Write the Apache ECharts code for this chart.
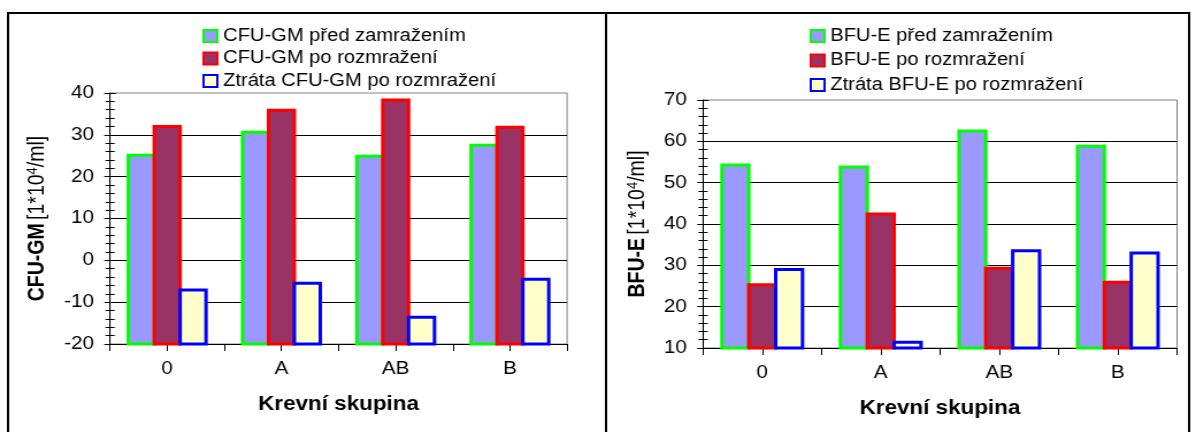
<!DOCTYPE html>
<html>
<head>
<meta charset="utf-8">
<script src="https://cdn.jsdelivr.net/npm/echarts@6/dist/echarts.min.js"></script>
<style>
  html, body { margin: 0; padding: 0; background: #fff; overflow: hidden; }
  /* the drawing is laid out on a narrower canvas and widened to the window */
  #chart { width: 1040px; height: 432px; transform: scaleX(1.15); transform-origin: 0 0; }
</style>
</head>
<body>
<div id="chart"></div>
<script>
// Blood groups on the category axis
const categories = ['0', 'A', 'AB', 'B'];

// CFU-GM counts [1*10^4/ml]
const cfuNames = ['CFU-GM před zamražením', 'CFU-GM po rozmražení', 'Ztráta CFU-GM po rozmražení'];
const cfuBefore = [25.1, 30.6, 24.9, 27.5];
const cfuAfter = [32.0, 35.9, 38.3, 31.8];
const cfuLoss = [-7.1, -5.5, -13.6, -4.5];
const cfuAxis = { min: -20, max: 40, interval: 10 };

// BFU-E counts [1*10^4/ml]
const bfuNames = ['BFU-E před zamražením', 'BFU-E po rozmražení', 'Ztráta BFU-E po rozmražení'];
const bfuBefore = [54.3, 53.8, 62.5, 58.8];
const bfuAfter = [25.3, 42.4, 29.3, 25.9];
const bfuLoss = [29.0, 11.4, 33.5, 33.0];
const bfuAxis = { min: 10, max: 70, interval: 10 };

const xTitle = 'Krevní skupina';

const FONT = '"Liberation Sans", Arial, sans-serif';
const GROUP_SHARE = 0.68;
const styles = [
  { fill: '#9999FF', stroke: '#00FF00' },
  { fill: '#993366', stroke: '#FF0000' },
  { fill: '#FFFFCC', stroke: '#0000FF' }
];

// Bars start at the bottom of the value axis, three side by side per category
function barRenderer(slot, baseValue) {
  const st = styles[slot];
  return function (params, api) {
    const cat = api.value(0);
    const top = api.coord([cat, api.value(1)]);
    const base = api.coord([cat, baseValue]);
    const band = api.size([1, 0])[0];
    const w = band * GROUP_SHARE / 3;
    const x = top[0] - band * GROUP_SHARE / 2 + slot * w;
    return {
      type: 'rect',
      shape: { x: x, y: top[1], width: w, height: base[1] - top[1] },
      style: { fill: st.fill, stroke: st.stroke, lineWidth: 3 }
    };
  };
}

function makeSeries(names, lists, axisIdx, baseValue) {
  return lists.map(function (vals, k) {
    return {
      type: 'custom',
      name: names[k],
      xAxisIndex: axisIdx,
      yAxisIndex: axisIdx,
      encode: { x: 0, y: 1 },
      itemStyle: { color: styles[k].fill, borderColor: styles[k].stroke, borderWidth: 2 },
      data: vals.map(function (v, i) { return [i, v]; }),
      renderItem: barRenderer(k, baseValue)
    };
  });
}

function legendFor(names, left, gap) {
  return {
    orient: 'vertical', left: left, top: 22, itemGap: gap,
    itemWidth: 12, itemHeight: 12, icon: 'rect',
    textStyle: { fontFamily: FONT, fontSize: 17.5, color: '#000' },
    data: names.map(function (n, k) {
      return { name: n, itemStyle: { color: styles[k].fill, borderColor: styles[k].stroke, borderWidth: 2 } };
    })
  };
}

function mainX(grid) {
  return {
    type: 'category', gridIndex: grid, data: categories, boundaryGap: true,
    axisLine: { onZero: false, lineStyle: { color: '#000', width: 1 } },
    axisTick: { show: false },
    axisLabel: { fontFamily: FONT, fontSize: 18, color: '#000', margin: 16 },
    splitLine: { show: false },
    name: xTitle, nameLocation: 'middle', nameGap: 51,
    nameTextStyle: { fontFamily: FONT, fontSize: 19.5, fontWeight: 'bold', color: '#000' }
  };
}

// Tick marks at category edges and centres
function tickX(grid) {
  return {
    type: 'category', gridIndex: grid, data: ['', '', '', '', '', '', '', ''], boundaryGap: true,
    position: 'bottom',
    axisLine: { show: false, onZero: false },
    axisTick: { show: true, length: 7, lineStyle: { color: '#000' } },
    axisLabel: { show: false },
    splitLine: { show: false }
  };
}

function mainY(grid, ax, label, gap) {
  return {
    type: 'value', gridIndex: grid, min: ax.min, max: ax.max, interval: ax.interval,
    axisLine: { show: true, onZero: false, lineStyle: { color: '#000', width: 1 } },
    axisTick: { show: true, inside: false, length: 5, lineStyle: { color: '#000' } },
    minorTick: { show: true, splitNumber: 5, length: 4, lineStyle: { color: '#000' } },
    splitLine: { show: true, showMaxLine: false, lineStyle: { color: '#000', width: 1 } },
    axisLabel: { fontFamily: FONT, fontSize: 18, color: '#000', margin: 14 },
    name: '{b|' + label + '} {n|[1*10}{s|4}{n|/ml]}',
    nameLocation: 'middle', nameGap: gap, nameRotate: 90,
    nameTextStyle: {
      fontFamily: FONT, color: '#000',
      rich: {
        b: { fontFamily: FONT, fontSize: 19.5, fontWeight: 'bold', color: '#000', lineHeight: 21 },
        n: { fontFamily: FONT, fontSize: 19.5, color: '#000', lineHeight: 21 },
        s: { fontFamily: FONT, fontSize: 13, color: '#000', lineHeight: 13, verticalAlign: 'top' }
      }
    }
  };
}

// Inner halves of the crossing ticks
function tickY(grid, ax) {
  return {
    type: 'value', gridIndex: grid, min: ax.min, max: ax.max, interval: ax.interval,
    position: 'left',
    axisLine: { show: false, onZero: false },
    axisTick: { show: true, inside: true, length: 5, lineStyle: { color: '#000' } },
    minorTick: { show: true, splitNumber: 5, length: 4, lineStyle: { color: '#000' } },
    splitLine: { show: false },
    axisLabel: { show: false }
  };
}

const chart = echarts.init(document.getElementById('chart'), null, { renderer: 'canvas' });
chart.setOption({
  animation: false,
  backgroundColor: '#fff',
  graphic: [
    { type: 'rect', silent: true, shape: { x: 7, y: 13, width: 520, height: 440 },
      style: { fill: 'none', stroke: '#000', lineWidth: 2 } },
    { type: 'rect', silent: true, shape: { x: 527, y: 13, width: 507, height: 440 },
      style: { fill: 'none', stroke: '#000', lineWidth: 2 } }
  ],
  legend: [legendFor(cfuNames, 171, 4.5), legendFor(bfuNames, 699, 6.5)],
  grid: [
    { left: 95.7, width: 397.4, top: 93, height: 251, show: true, borderColor: '#808080', borderWidth: 1,
      backgroundColor: 'transparent', containLabel: false, outerBoundsMode: 'none' },
    { left: 611.3, width: 412.2, top: 100, height: 248, show: true, borderColor: '#808080', borderWidth: 1,
      backgroundColor: 'transparent', containLabel: false, outerBoundsMode: 'none' }
  ],
  xAxis: [mainX(0), tickX(0), mainX(1), tickX(1)],
  yAxis: [mainY(0, cfuAxis, 'CFU-GM', 53), tickY(0, cfuAxis), mainY(1, bfuAxis, 'BFU-E', 46), tickY(1, bfuAxis)],
  series: []
    .concat(makeSeries(cfuNames, [cfuBefore, cfuAfter, cfuLoss], 0, cfuAxis.min))
    .concat(makeSeries(bfuNames, [bfuBefore, bfuAfter, bfuLoss], 2, bfuAxis.min))
});
</script>
</body>
</html>
